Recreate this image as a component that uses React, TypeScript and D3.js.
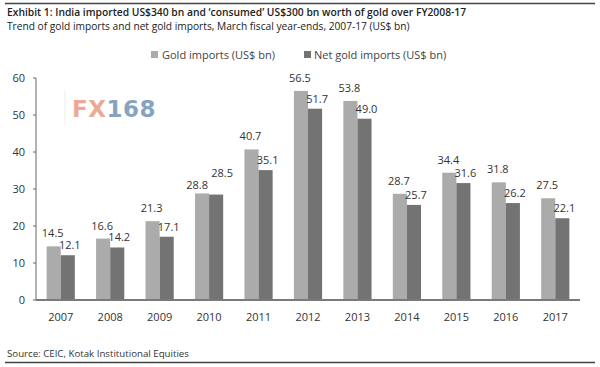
import React from 'react';
import * as d3 from 'd3';

const years = ['2007', '2008', '2009', '2010', '2011', '2012', '2013', '2014', '2015', '2016', '2017'];
const goldImports = [14.5, 16.6, 21.3, 28.8, 40.7, 56.5, 53.8, 28.7, 34.4, 31.8, 27.5];
const netGoldImports = [12.1, 14.2, 17.1, 28.5, 35.1, 51.7, 49.0, 25.7, 31.6, 26.2, 22.1];
const seriesNames = ['Gold imports (US$ bn)', 'Net gold imports (US$ bn)'];
const yTicks = [0, 10, 20, 30, 40, 50, 60];

const colors = ['#ababab', '#737373'];
const font = "'Open Sans', 'DejaVu Sans', sans-serif";

const width = 600;
const height = 367;

const App = () => {
  const x0 = d3.scaleBand<string>().domain(years).range([36, 580]).paddingInner(0.43).paddingOuter(0.215);
  const x1 = d3.scaleBand<string>().domain(['gold', 'net']).range([0, x0.bandwidth()]);
  const y = d3.scaleLinear().domain([0, 60]).range([300, 78]);

  const rows = years.map((yr, i) => ({ yr, gold: goldImports[i], net: netGoldImports[i] }));

  return (
    <svg width={width} height={height} style={{ position: 'absolute', left: 0, top: 0, background: '#fff' }} fontFamily={font}>
      <line x1={5} x2={595} y1={3.5} y2={3.5} stroke="#444" strokeWidth={1.5} />
      <text x={7} y={16} fontSize={10.3} fontWeight={600} fill="#222">
        Exhibit 1: India imported US$340 bn and ‘consumed’ US$300 bn worth of gold over FY2008-17
      </text>
      <text x={7} y={30} fontSize={10.2} fill="#222">
        Trend of gold imports and net gold imports, March fiscal year-ends, 2007-17 (US$ bn)
      </text>

      {/* legend */}
      <g fontSize={11} fill="#444">
        <rect x={151} y={51} width={7} height={7} fill={colors[0]} />
        <text x={162} y={58.5}>{seriesNames[0]}</text>
        <rect x={304} y={51} width={7} height={7} fill={colors[1]} />
        <text x={314} y={58.5}>{seriesNames[1]}</text>
      </g>

      {/* watermark */}
      <g>
        <line x1={65} x2={65} y1={90} y2={125} stroke="#eeeeee" />
        <text x={72} y={117} fontSize={23} fontWeight={700} fontFamily="'DejaVu Sans', sans-serif" letterSpacing={0.5}>
          <tspan fill="#ecaa94">FX</tspan>
          <tspan fill="#86a3bf">168</tspan>
        </text>
      </g>

      {/* y axis */}
      <line x1={36} x2={36} y1={y(60)} y2={y(0)} stroke="#666" strokeWidth={1} />
      {yTicks.map(t => (
        <g key={t}>
          <line x1={33} x2={36} y1={y(t)} y2={y(t)} stroke="#666" />
          <text x={25} y={y(t) + 4} fontSize={11} textAnchor="end" fill="#333">{t}</text>
        </g>
      ))}

      {/* bars */}
      {rows.map(r => {
        const gx = x0(r.yr)! + x1('gold')!;
        const nx = x0(r.yr)! + x1('net')!;
        const bw = x1.bandwidth();
        let gBase = y(r.gold) - 9;
        let nBase = y(r.net) - 6;
        let gShift = -1;
        let nShift = 2;
        if (Math.abs(y(r.gold) - y(r.net)) < 5) {
          gBase = y(r.gold) - 4;
          nBase = gBase - 12;
          gShift = -5;
          nShift = 6;
        }
        return (
          <g key={r.yr}>
            <rect x={gx} y={y(r.gold)} width={bw} height={y(0) - y(r.gold)} fill={colors[0]} />
            <rect x={nx} y={y(r.net)} width={bw} height={y(0) - y(r.net)} fill={colors[1]} />
            <text x={gx + bw / 2 + gShift} y={gBase} fontSize={11} textAnchor="middle" fill="#333">{r.gold.toFixed(1)}</text>
            <text x={nx + bw / 2 + nShift} y={nBase} fontSize={11} textAnchor="middle" fill="#333">{r.net.toFixed(1)}</text>
            <text x={x0(r.yr)! + x0.bandwidth() / 2} y={321} fontSize={11} textAnchor="middle" fill="#333">{r.yr}</text>
          </g>
        );
      })}

      {/* x axis */}
      <line x1={36} x2={580} y1={y(0)} y2={y(0)} stroke="#7a7a7a" strokeWidth={2} />

      <text x={7} y={357} fontSize={9.7} fill="#333">Source: CEIC, Kotak Institutional Equities</text>
      <line x1={5} x2={595} y1={362.5} y2={362.5} stroke="#444" strokeWidth={1.5} />
    </svg>
  );
};

export default App;
